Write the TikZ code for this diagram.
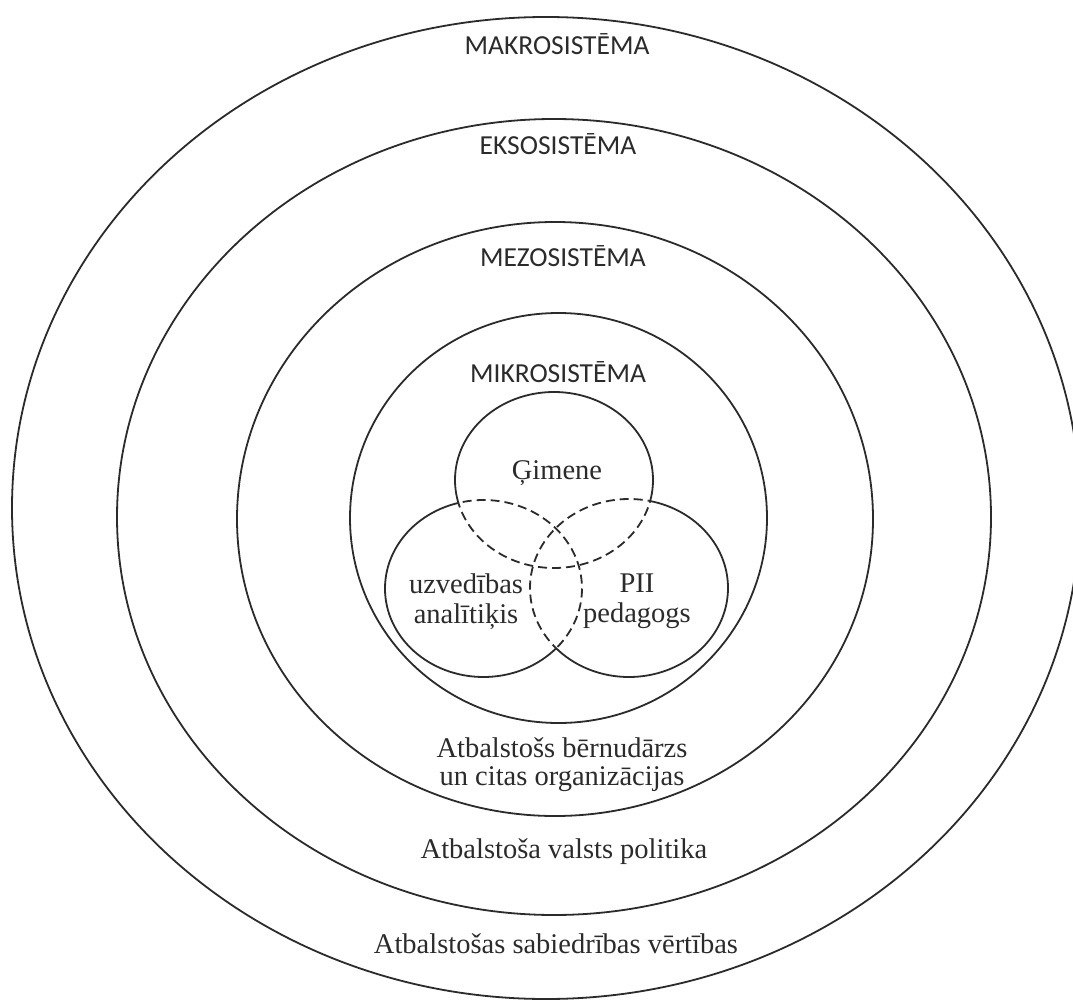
\documentclass[tikz,border=0pt]{standalone}
\usepackage{fontspec}
\setmainfont{Liberation Serif}
\newfontfamily\capsfont{Carlito}
\usetikzlibrary{shapes.geometric}
\definecolor{ink}{HTML}{2B2B2B}

% Venn circles of the micro level
\def\gim{(554,480) ellipse [x radius=99, y radius=88]}
\def\lft{(483.5,588.5) ellipse [x radius=98.5, y radius=88.5]}
\def\rgt{(629,588) ellipse [x radius=99, y radius=89]}

\begin{document}
\begin{tikzpicture}[x=1pt, y=-1pt,
  ring/.style={draw=ink, line width=1.8pt, ellipse, inner sep=0pt},
  venn/.style={draw=ink, line width=1.8pt},
  overlap/.style={venn, dash pattern=on 9pt off 5pt},
  sys/.style={font=\capsfont\fontsize{27.5}{30}\selectfont, text=ink, anchor=base},
  lbl/.style={font=\fontsize{28.5}{30}\selectfont, text=ink, align=center}
]
\useasboundingbox (0,0) rectangle (1073,1000);
\fill[white] (0,0) rectangle (1073,1000);

\node[ring, minimum width=1068pt, minimum height=982pt] (makro) at (546,508) {};
\node[ring, minimum width=874pt, minimum height=796pt] (ekso) at (554,517) {};
\node[ring, minimum width=636pt, minimum height=594pt] (mezo) at (555,519) {};
\node[ring, minimum width=417pt, minimum height=410pt] (mikro) at (558.5,518) {};

\node[sys] (makrolbl) at (557,55) {MAKROSISTĒMA};
\node[sys] (eksolbl) at (558,155) {EKSOSISTĒMA};
\node[sys] (mezolbl) at (563,267) {MEZOSISTĒMA};
\node[sys] (mikrolbl) at (558,382) {MIKROSISTĒMA};

% solid outside the other two circles, dashed inside them
\foreach \a/\b/\c in {\gim/\lft/\rgt, \lft/\gim/\rgt, \rgt/\gim/\lft} {
  \begin{scope}[even odd rule]
    \clip (0,0) rectangle (1073,1000) \b;
    \clip (0,0) rectangle (1073,1000) \c;
    \draw[venn] \a;
  \end{scope}
  \begin{scope}
    \clip \b \c;
    \draw[overlap] \a;
  \end{scope}
}

\node[lbl, anchor=base] (gimene) at (557,479) {Ģimene};
\node[lbl] (analitikis) at (466,602) {uzvedības\\analītiķis};
\node[lbl] (pedagogs) at (637,601) {PII\\pedagogs};
\node[lbl, font=\fontsize{28.5}{28}\selectfont] (darzs) at (562,765)
  {Atbalstošs bērnudārzs\\un citas organizācijas};
\node[lbl, anchor=base] (politika) at (564,858) {Atbalstoša valsts politika};
\node[lbl, anchor=base] (vertibas) at (556,953) {Atbalstošas sabiedrības vērtības};
\end{tikzpicture}
\end{document}
